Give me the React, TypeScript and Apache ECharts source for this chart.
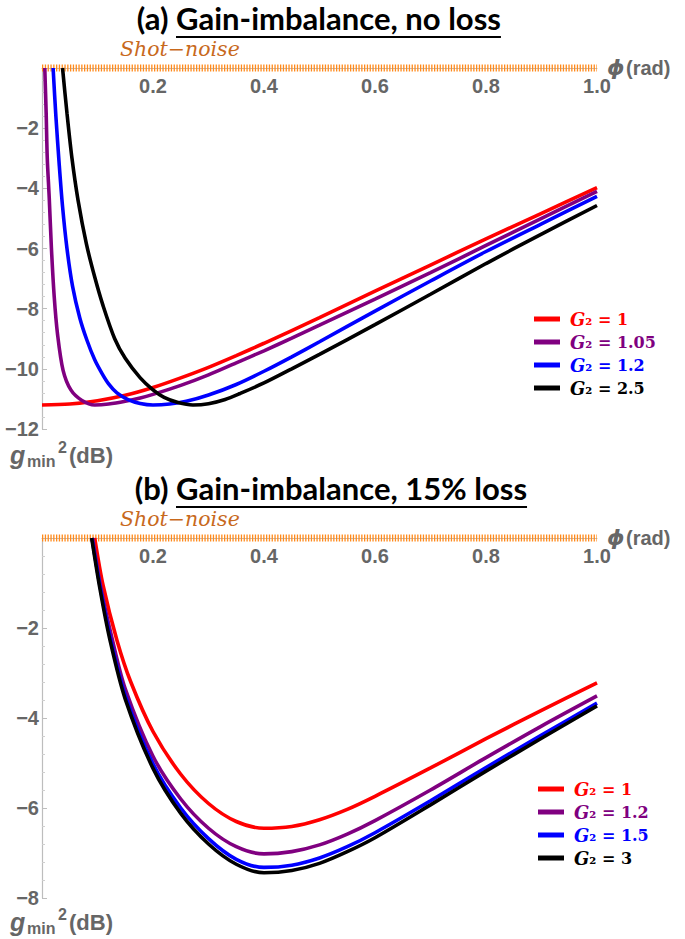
import React, { useEffect, useRef } from 'react';
import * as echarts from 'echarts';

// ---------- data ----------
const phiTicks = [0, 0.2, 0.4, 0.6, 0.8, 1.0];
const namesA = ['G2 = 1', 'G2 = 1.05', 'G2 = 1.2', 'G2 = 2.5'];
const namesB = ['G2 = 1', 'G2 = 1.2', 'G2 = 1.5', 'G2 = 3'];
const shotNoise = [[0, 0], [1, 0]];

// panel (a): gain imbalance, no loss  [phi (rad), g_min^2 (dB)]
const aG1 = [[0, -11.2], [0.05, -11.17], [0.1, -11.06], [0.15, -10.88], [0.2, -10.62], [0.25, -10.3], [0.3, -9.95], [0.35, -9.56], [0.4, -9.15], [0.5, -8.3], [0.6, -7.42], [0.7, -6.55], [0.8, -5.68], [0.9, -4.83], [1.0, -3.98]];
const aG105 = [[0.005, 0], [0.0075, -1.5], [0.0095, -3.0], [0.013, -4.3], [0.017, -6], [0.022, -7.6], [0.028, -8.85], [0.038, -10.05], [0.052, -10.7], [0.072, -11.05], [0.095, -11.2], [0.12, -11.17], [0.15, -11.08], [0.177, -10.97], [0.2, -10.85], [0.25, -10.55], [0.3, -10.2], [0.35, -9.8], [0.4, -9.4], [0.45, -8.98], [0.5, -8.55], [0.6, -7.68], [0.7, -6.8], [0.8, -5.9], [0.9, -5.0], [1.0, -4.1]];
const aG12 = [[0.02, 0], [0.025, -1.6], [0.031, -3.2], [0.037, -4.6], [0.045, -6.0], [0.055, -7.25], [0.068, -8.3], [0.081, -9.05], [0.095, -9.7], [0.108, -10.15], [0.12, -10.5], [0.135, -10.8], [0.155, -11.02], [0.177, -11.15], [0.2, -11.2], [0.23, -11.17], [0.26, -11.08], [0.3, -10.87], [0.35, -10.52], [0.4, -10.08], [0.45, -9.6], [0.5, -9.1], [0.6, -8.08], [0.7, -7.08], [0.8, -6.1], [0.9, -5.18], [1.0, -4.27]];
const aG25 = [[0.037, 0], [0.045, -1.5], [0.054, -3.0], [0.065, -4.4], [0.08, -5.85], [0.095, -6.95], [0.11, -7.9], [0.131, -9.0], [0.15, -9.65], [0.177, -10.3], [0.2, -10.7], [0.22, -10.95], [0.245, -11.12], [0.272, -11.2], [0.3, -11.16], [0.33, -11.02], [0.357, -10.82], [0.4, -10.47], [0.45, -10.0], [0.5, -9.52], [0.6, -8.53], [0.7, -7.52], [0.8, -6.5], [0.9, -5.52], [1.0, -4.57]];

// panel (b): gain imbalance, 15% loss
const bG1 = [[0.095, 0], [0.11, -1.05], [0.135, -2.27], [0.16, -3.2], [0.2, -4.3], [0.25, -5.25], [0.3, -5.9], [0.35, -6.3], [0.4, -6.45], [0.45, -6.41], [0.5, -6.26], [0.55, -6.03], [0.6, -5.74], [0.7, -5.11], [0.8, -4.46], [0.9, -3.83], [1.0, -3.22]];
const bG12 = [[0.091, 0], [0.106, -1.1], [0.127, -2.27], [0.15, -3.35], [0.2, -4.85], [0.25, -5.8], [0.3, -6.45], [0.35, -6.86], [0.4, -7.02], [0.45, -6.97], [0.5, -6.82], [0.55, -6.58], [0.6, -6.28], [0.7, -5.6], [0.8, -4.88], [0.9, -4.18], [1.0, -3.51]];
const bG15 = [[0.09, 0], [0.105, -1.1], [0.124, -2.27], [0.15, -3.5], [0.2, -5.02], [0.25, -6.0], [0.3, -6.68], [0.35, -7.14], [0.4, -7.32], [0.45, -7.27], [0.5, -7.11], [0.55, -6.86], [0.6, -6.55], [0.7, -5.84], [0.8, -5.1], [0.9, -4.38], [1.0, -3.67]];
const bG3 = [[0.0895, 0], [0.104, -1.1], [0.1225, -2.27], [0.15, -3.58], [0.2, -5.12], [0.25, -6.12], [0.3, -6.8], [0.35, -7.25], [0.4, -7.44], [0.45, -7.39], [0.5, -7.23], [0.55, -6.97], [0.6, -6.66], [0.7, -5.93], [0.8, -5.18], [0.9, -4.45], [1.0, -3.73]];

const seriesA = [aG1, aG105, aG12, aG25];
const seriesB = [bG1, bG12, bG15, bG3];
const colors = ['#ff0000', '#800080', '#0000ff', '#000000'];

// ---------- helpers ----------
const GRAY = '#666666';
const AXIS_GRAY = '#bdbdbd';
const SANS = '"Liberation Sans", Arial, sans-serif';
const SERIF = '"DejaVu Serif", serif';

function measure(text: string, font: string): number {
  const c = document.createElement('canvas');
  const ctx = c.getContext('2d');
  if (!ctx) return text.length * 12;
  ctx.font = font;
  return ctx.measureText(text).width;
}

function txt(text: string, x: number, y: number, o: any = {}) {
  const align = o.align || 'left';
  const va = o.va || 'middle';
  return {
    type: 'text',
    z: 100,
    style: {
      text, x, y,
      fill: o.fill || GRAY,
      fontSize: o.size || 20,
      fontFamily: o.family || SANS,
      fontWeight: o.weight || 'bold',
      fontStyle: o.style || 'normal',
      align, verticalAlign: va, textAlign: align, textVerticalAlign: va,
    },
  };
}

export default function App() {
  const ref = useRef<HTMLDivElement>(null);

  useEffect(() => {
    document.body.style.margin = '0';
    if (!ref.current) return;
    const chart = echarts.init(ref.current, undefined, { renderer: 'svg' });

    const gridA = { left: 42, top: 68, width: 555, height: 361 };
    const gridB = { left: 42, top: 538, width: 555, height: 360 };

    const yLabelFmt = (v: number) => (v === 0 ? '' : '\u2212' + Math.abs(v));
    const xLabelFmt = (v: number) => (v === 0 ? '' : v.toFixed(1));

    const mkX = (gi: number) => ({
      gridIndex: gi, type: 'value', min: phiTicks[0], max: phiTicks[phiTicks.length - 1], interval: 0.2,
      position: 'top',
      axisLine: { show: true, onZero: false, lineStyle: { color: AXIS_GRAY } },
      axisTick: { show: false },
      splitLine: { show: false },
      axisLabel: { inside: true, margin: 8, formatter: xLabelFmt, color: GRAY, fontSize: 20, fontWeight: 'bold', fontFamily: SANS },
    });
    const mkY = (gi: number, min: number) => ({
      gridIndex: gi, type: 'value', min, max: 0, interval: 2,
      axisLine: { show: true, onZero: false, lineStyle: { color: AXIS_GRAY, width: 1.2 } },
      axisTick: { show: true, inside: true, length: 5, lineStyle: { color: AXIS_GRAY } },
      minorTick: { show: true, splitNumber: 5, length: 3, lineStyle: { color: '#cfcfcf' } },
      splitLine: { show: false },
      axisLabel: { margin: 3, formatter: yLabelFmt, color: GRAY, fontSize: 20, fontWeight: 'bold', fontFamily: SANS },
    });

    const lineSeries = (name: string, data: number[][], color: string, gi: number) => ({
      name, type: 'line', xAxisIndex: gi, yAxisIndex: gi, data,
      showSymbol: false, symbol: 'none', smooth: 0.3, clip: true,
      lineStyle: { color, width: 3.6 }, itemStyle: { color }, z: 5,
    });
    const shotSeries = (gi: number) => ({
      name: 'shot' + gi, type: 'line', xAxisIndex: gi, yAxisIndex: gi, data: shotNoise,
      showSymbol: false, symbol: 'none', clip: false, silent: true,
      lineStyle: { color: '#ff8a1c', width: 7, type: [1.3, 1.5] }, z: 3,
    });

    const legendFmt = (name: string) => {
      const v = name.split('= ')[1];
      return '{i|G}{n|\u2082 = ' + v + '}';
    };
    const mkLegend = (names: string[], prefix: string, left: number, top: number) => ({
      orient: 'vertical', left, top, icon: 'rect', itemWidth: 26, itemHeight: 5, itemGap: 5,
      selectedMode: false,
      data: names.map((n, i) => ({ name: prefix + n, textStyle: { color: colors[i] } })),
      formatter: (name: string) => legendFmt(name.slice(prefix.length)),
      textStyle: {
        fontFamily: SERIF, fontWeight: 'bold', fontSize: 17, padding: [0, 0, 0, 5],
        rich: {
          i: { fontFamily: SERIF, fontWeight: 'bold', fontStyle: 'italic', fontSize: 18, lineHeight: 21 },
          n: { fontFamily: SERIF, fontWeight: 'bold', fontSize: 16, lineHeight: 21 },
        },
      },
    });

    // titles
    const titleFamily = 'Lato, "Open Sans", sans-serif';
    const mainA = 'Gain-imbalance, no loss';
    const mainB = 'Gain-imbalance, 15% loss';
    const w26 = measure(mainA, 'bold 26px ' + titleFamily);
    const tSize = Math.max(18, Math.min(34, 26 * 325 / (w26 || 325)));
    const tFont = 'bold ' + tSize + 'px ' + titleFamily;
    const wA = measure(mainA, tFont);
    const wB = measure(mainB, tFont);
    const spaceW = measure(' ', tFont);
    const tX = 176;

    const titleEls = (label: string, main: string, w: number, y: number, uy: number) => [
      txt(label, tX - spaceW, y, { fill: '#000', size: tSize, family: titleFamily, align: 'right' }),
      txt(main, tX, y, { fill: '#000', size: tSize, family: titleFamily }),
      { type: 'line', z: 100, shape: { x1: tX, y1: uy, x2: tX + w, y2: uy }, style: { stroke: '#000', lineWidth: 2 } },
    ];

    const axisNameEls = (xAxisY: number, yNameY: number) => [
      txt('\u03D5', 607, xAxisY, { size: 22, style: 'italic', family: '"DejaVu Sans", sans-serif' }),
      txt('(rad)', 626, xAxisY + 1, { size: 20 }),
      txt('Shot\u2212noise', 120, xAxisY - 18, { fill: '#c8691c', size: 20.5, family: SERIF, weight: 'normal', style: 'italic' }),
      txt('g', 10, yNameY, { size: 25, style: 'italic' }),
      txt('min', 27, yNameY + 6, { size: 16 }),
      txt('2', 58, yNameY - 8, { size: 16 }),
      txt('(dB)', 69, yNameY, { size: 22 }),
    ];

    const option: any = {
      animation: false,
      backgroundColor: '#ffffff',
      grid: [gridA, gridB],
      xAxis: [mkX(0), mkX(1)],
      yAxis: [mkY(0, -12), mkY(1, -8)],
      legend: [mkLegend(namesA, 'a:', 529, 305), mkLegend(namesB, 'b:', 533, 775)],
      series: [
        shotSeries(0), shotSeries(1),
        ...seriesA.map((d, i) => lineSeries('a:' + namesA[i], d, colors[i], 0)),
        ...seriesB.map((d, i) => lineSeries('b:' + namesB[i], d, colors[i], 1)),
      ],
      graphic: [
        ...titleEls('(a)', mainA, wA, 18, 37),
        ...titleEls('(b)', mainB, wB, 488, 507),
        ...axisNameEls(67, 455),
        ...axisNameEls(537, 922),
      ],
    };

    chart.setOption(option);
    return () => chart.dispose();
  }, []);

  return <div ref={ref} style={{ width: 685, height: 939 }} />;
}
